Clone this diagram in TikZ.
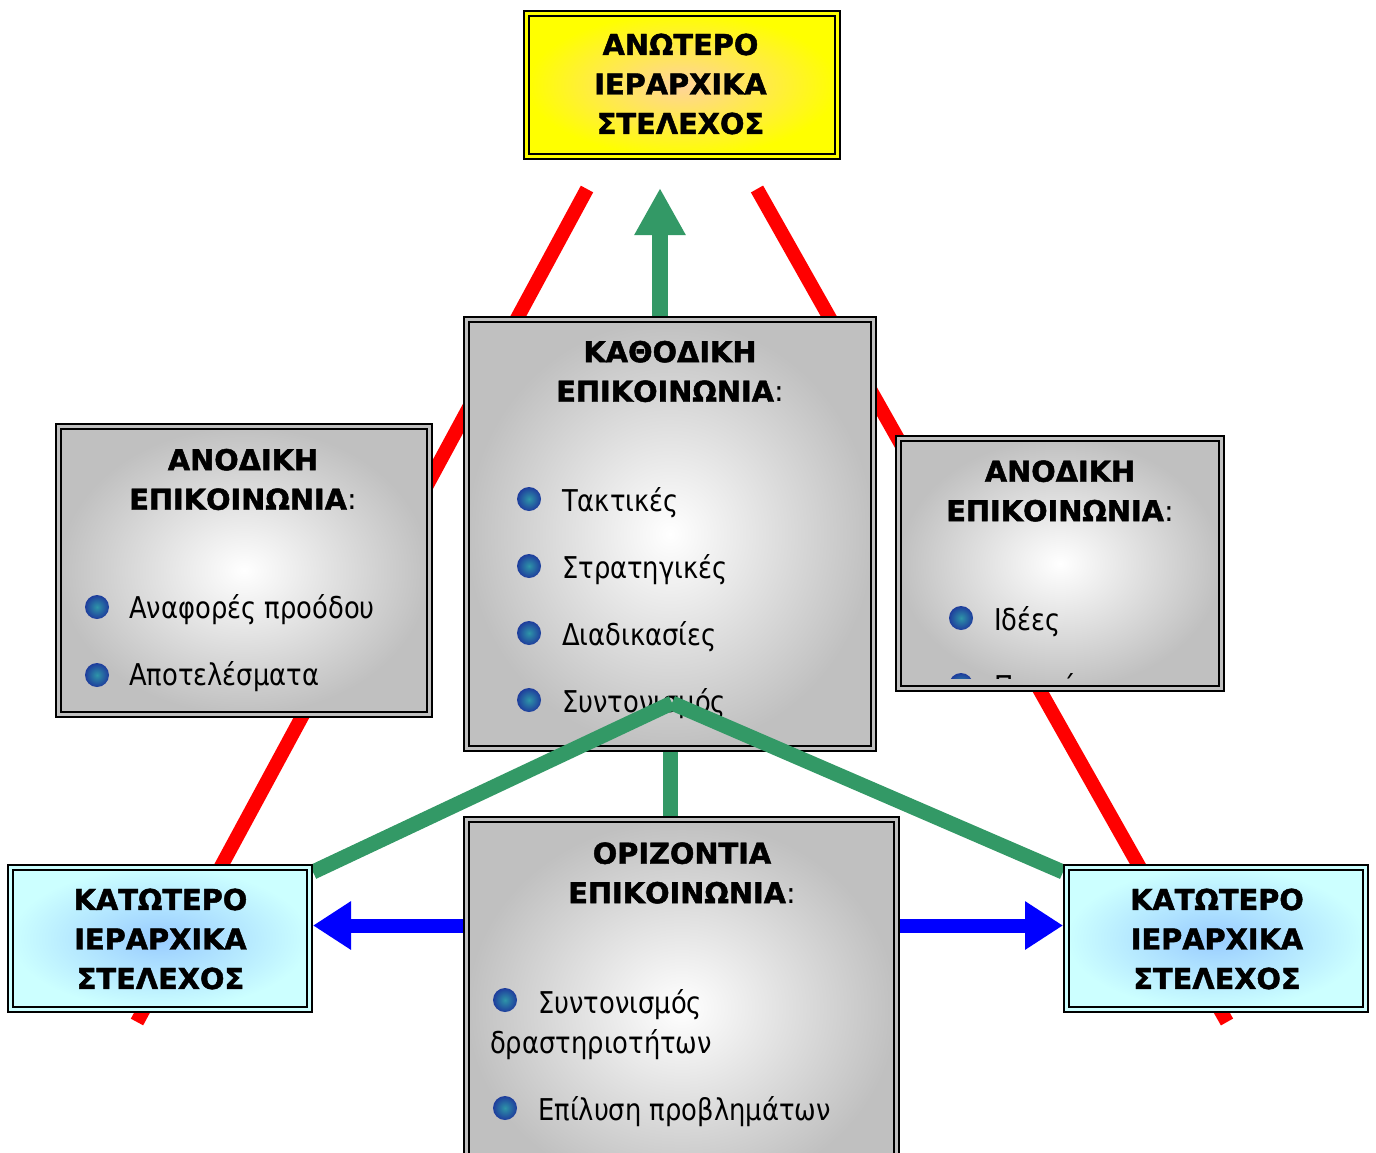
\documentclass[tikz,border=0pt]{standalone}
\usepackage{fontspec}
\setmainfont{DejaVu Sans}
\newfontfamily\bodyfont{DejaVu Sans}[FakeStretch=0.86]
\newfontfamily\titlefont{DejaVu Sans Bold}[FakeBold=1.6]
\usepackage{xcolor}
\usetikzlibrary{arrows.meta, positioning}
\definecolor{linkred}{HTML}{FF0000}
\definecolor{linkgreen}{HTML}{339966}
\definecolor{linkblue}{HTML}{0000FF}
\definecolor{boxgrey}{HTML}{C0C0C0}
\definecolor{boxyellow}{HTML}{FFFF00}
\definecolor{boxpeach}{HTML}{FFD39B}
\definecolor{boxcyan}{HTML}{CCFFFF}
\definecolor{boxsky}{HTML}{99CCFF}
\definecolor{dotteal}{HTML}{2E95A8}
\definecolor{dotblue}{HTML}{1E3C9C}
\pgfdeclarelayer{back}
\pgfdeclarelayer{front}
\pgfsetlayers{back,main,front}

\begin{document}
\begin{tikzpicture}[x=1pt, y=-1pt,
      frame/.style={draw=black, line width=2pt, double distance=3pt, outer sep=3.5pt, inner sep=0pt},
      gbox/.style={frame, double=boxgrey, inner color=white, outer color=boxgrey},
      ybox/.style={frame, double=boxyellow, inner color=boxpeach, outer color=boxyellow},
      cbox/.style={frame, double=boxcyan, inner color=boxsky, outer color=boxcyan},
      ttl/.style={font=\titlefont\fontsize{28.8}{39.5}\selectfont, align=center, inner sep=0pt},
      itm/.style={font=\bodyfont\fontsize{30}{40}\selectfont, anchor=base west, inner sep=0pt},
      dot/.style={circle, minimum size=24pt, inner sep=0pt, inner color=dotteal, outer color=dotblue},
      redline/.style={draw=linkred, line width=14pt},
      gflow/.style={draw=linkgreen, line width=15pt},
      bflow/.style={draw=linkblue, line width=14pt, -{Triangle[length=38pt, width=46pt]}}
    ]
      \useasboundingbox (0,0) rectangle (1376,1153);
      \clip (0,0) rectangle (1376,1153);

      \coordinate (tri-tl) at (587,189);
      \coordinate (tri-bl) at (137,1022);
      \coordinate (tri-tr) at (757,189);
      \coordinate (tri-br) at (1227,1022);
      \begin{pgfonlayer}{back}
        \draw[redline] (tri-tl) -- (tri-bl);
        \draw[redline] (tri-tr) -- (tri-br);
      \end{pgfonlayer}

      \node[ybox, minimum width=311pt, minimum height=143pt] (top) at (682,85) {};
      \node[ttl] (top-t) at (680.5,84) {ΑΝΩΤΕΡΟ\\ΙΕΡΑΡΧΙΚΑ\\ΣΤΕΛΕΧΟΣ};

      \node[gbox, minimum width=407pt, minimum height=429pt] (mid) at (670,534) {};
      \node[ttl] (mid-t) at (670,371.5) {ΚΑΘΟΔΙΚΗ\\ΕΠΙΚΟΙΝΩΝΙΑ{\normalfont:}};
      \foreach \t [count=\i] in {Τακτικές, Στρατηγικές, Διαδικασίες, Συντονισμός} {
        \node[dot] (mid-d\i) at (529,432+67*\i) {};
        \node[itm] (mid-i\i) at (562,444+67*\i) {\t};
      }

      \node[gbox, minimum width=371pt, minimum height=288pt] (left) at (244,570.5) {};
      \node[ttl] (left-t) at (243,479.5) {ΑΝΟΔΙΚΗ\\ΕΠΙΚΟΙΝΩΝΙΑ{\normalfont:}};
      \node[dot] (left-d1) at (97,607) {};
      \node[itm] (left-i1) at (129,618) {Αναφορές προόδου};
      \node[dot] (left-d2) at (97,675) {};
      \node[itm] (left-i2) at (129,685) {Αποτελέσματα};

      \node[gbox, minimum width=323pt, minimum height=250pt] (right) at (1060,563.5) {};
      \node[ttl] (right-t) at (1060,491) {ΑΝΟΔΙΚΗ\\ΕΠΙΚΟΙΝΩΝΙΑ{\normalfont:}};
      \node[dot] (right-d1) at (961,618) {};
      \node[itm] (right-i1) at (994,630) {Ιδέες};
      \begin{scope}
        \clip (899,439) rectangle (1221,678.5);
        \node[dot] (right-d2) at (961,685) {};
        \node[itm] (right-i2) at (994,697) {Προτάσεις};
      \end{scope}

      \node[gbox, minimum width=430pt, minimum height=377pt] (bot) at (681.5,1008) {};
      \node[ttl] (bot-t) at (682,873) {ΟΡΙΖΟΝΤΙΑ\\ΕΠΙΚΟΙΝΩΝΙΑ{\normalfont:}};
      \node[dot] (bot-d1) at (505,1000) {};
      \node[itm] (bot-i1) at (538,1013) {Συντονισμός};
      \node[itm] (bot-i1b) at (490,1053) {δραστηριοτήτων};
      \node[dot] (bot-d2) at (505,1108) {};
      \node[itm] (bot-i2) at (538,1120) {Επίλυση προβλημάτων};

      \begin{pgfonlayer}{front}
        \node[cbox, minimum width=299pt, minimum height=142pt] (kl) at (160,938.5) {};
        \node[ttl] (kl-t) at (160.5,939) {ΚΑΤΩΤΕΡΟ\\ΙΕΡΑΡΧΙΚΑ\\ΣΤΕΛΕΧΟΣ};
        \node[cbox, minimum width=299pt, minimum height=142pt] (kr) at (1216,938.5) {};
        \node[ttl] (kr-t) at (1217,939) {ΚΑΤΩΤΕΡΟ\\ΙΕΡΑΡΧΙΚΑ\\ΣΤΕΛΕΧΟΣ};
      \end{pgfonlayer}

      \coordinate (up-tip) at (660,188);
      \coordinate (apex) at (672,703);
      \coordinate (kl-in) at ([yshift=13pt]kl.east);
      \coordinate (kr-in) at ([yshift=13pt]kr.west);
      \draw[gflow, line width=16pt, -{Triangle[length=47pt, width=48pt]}] ([xshift=-10pt]mid.north) -- (up-tip);
      \draw[gflow] (mid.south) -- (mid.south |- bot.north);
      \draw[gflow] (apex) -- ([yshift=66.5pt]kl.east);
      \draw[gflow] (apex) -- ([yshift=66.5pt]kr.west);
      \draw[bflow] (bot.west |- kl-in) -- (kl-in);
      \draw[bflow] (bot.east |- kr-in) -- (kr-in);
    \end{tikzpicture}
\end{document}
